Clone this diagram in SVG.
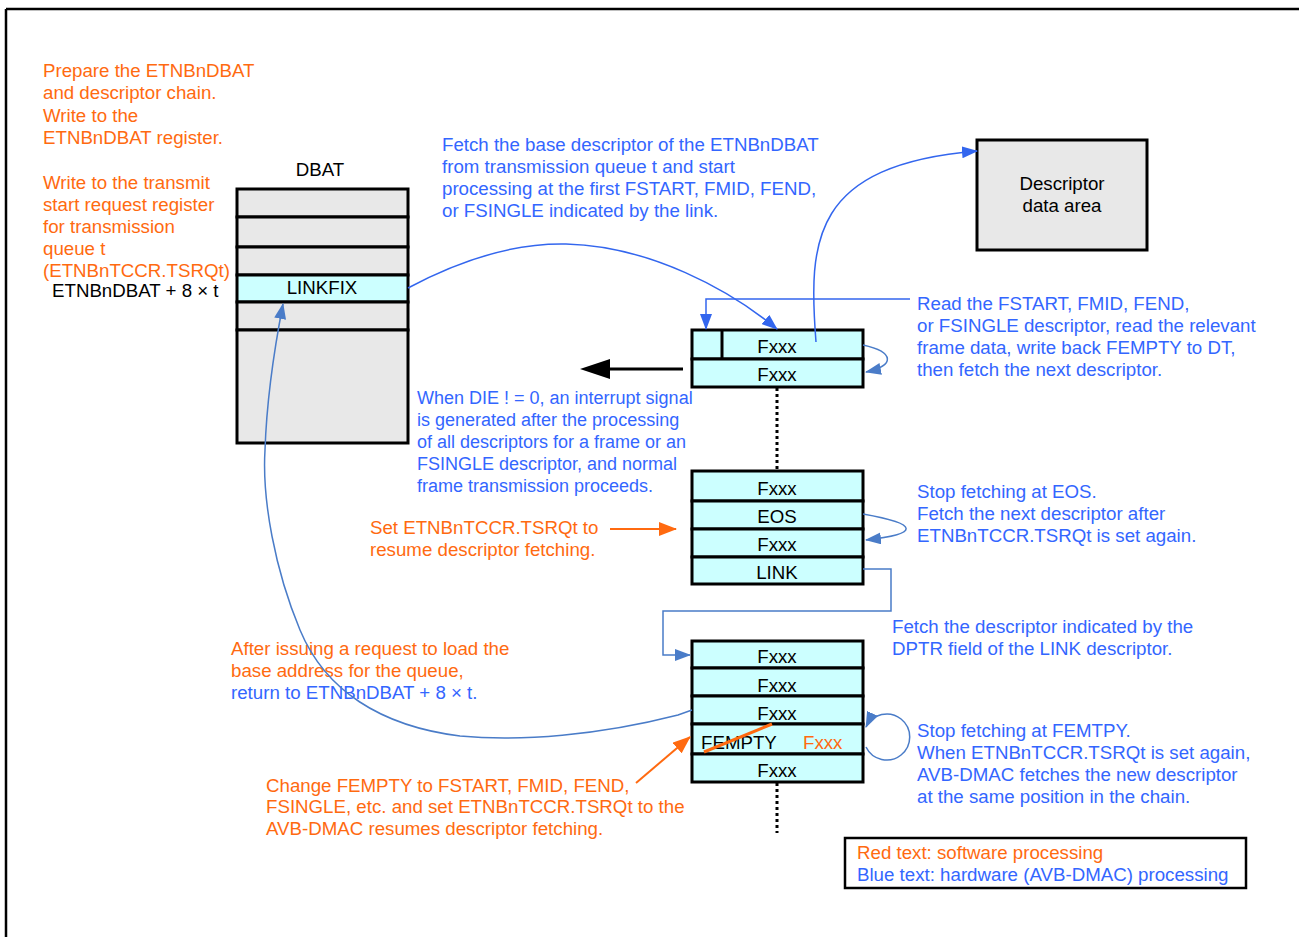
<svg xmlns="http://www.w3.org/2000/svg" width="1299" height="937" viewBox="0 0 1299 937">
<style>
text{font-family:"Liberation Sans",Arial,sans-serif;font-size:18.7px;}
.s{font-size:18px;}
.k{fill:#000;}
.o{fill:#FF6A10;}
.b{fill:#3366FF;}
.c{text-anchor:middle;}
.cell{fill:#CCFFFF;stroke:#000;stroke-width:3;}
.gray{fill:#E8E8E8;stroke:#000;stroke-width:3;}
.bl{fill:none;stroke:#3366EE;stroke-width:1.5;}
.sb{fill:none;stroke:#4A7CC8;stroke-width:1.5;}
.or{fill:none;stroke:#FF6A10;stroke-width:2;}
.dot{stroke:#000;stroke-width:3;stroke-dasharray:3,3;fill:none;}
</style>
<defs>
<marker id="ab" markerWidth="16" markerHeight="12" refX="15" refY="6" orient="auto" markerUnits="userSpaceOnUse"><path d="M0,0 L16,6 L0,12 z" fill="#3366EE"/></marker>
<marker id="as" markerWidth="16" markerHeight="12" refX="15" refY="6" orient="auto" markerUnits="userSpaceOnUse"><path d="M0,0 L16,6 L0,12 z" fill="#4A7CC8"/></marker>
<marker id="ao" markerWidth="18" markerHeight="14" refX="17" refY="7" orient="auto" markerUnits="userSpaceOnUse"><path d="M0,0 L18,7 L0,14 z" fill="#FF6A10"/></marker>
</defs>

<g id="frame">
<line x1="6" y1="9" x2="1299" y2="9" stroke="#000" stroke-width="2.5"/>
<line x1="6" y1="9" x2="6" y2="937" stroke="#000" stroke-width="2.5"/>
</g>

<g id="notes">
<text class="o" x="43" y="77">Prepare the ETNBnDBAT</text>
<text class="o" x="43" y="99">and descriptor chain.</text>
<text class="o" x="43" y="122">Write to the</text>
<text class="o" x="43" y="144">ETNBnDBAT register.</text>
<text class="o" x="43" y="189">Write to the transmit</text>
<text class="o" x="43" y="211">start request register</text>
<text class="o" x="43" y="233">for transmission</text>
<text class="o" x="43" y="255">queue t</text>
<text class="o" x="43" y="277">(ETNBnTCCR.TSRQt)</text>
<text class="k" x="52" y="297">ETNBnDBAT + 8 × t</text>

<text class="b" x="442" y="151">Fetch the base descriptor of the ETNBnDBAT</text>
<text class="b" x="442" y="173">from transmission queue t and start</text>
<text class="b" x="442" y="195">processing at the first FSTART, FMID, FEND,</text>
<text class="b" x="442" y="217">or FSINGLE indicated by the link.</text>

<text class="b" x="917" y="310">Read the FSTART, FMID, FEND,</text>
<text class="b" x="917" y="332">or FSINGLE descriptor, read the relevant</text>
<text class="b" x="917" y="354">frame data, write back FEMPTY to DT,</text>
<text class="b" x="917" y="376">then fetch the next descriptor.</text>

<text class="b s" x="417" y="404">When DIE ! = 0, an interrupt signal</text>
<text class="b s" x="417" y="426">is generated after the processing</text>
<text class="b s" x="417" y="448">of all descriptors for a frame or an</text>
<text class="b s" x="417" y="470">FSINGLE descriptor, and normal</text>
<text class="b s" x="417" y="492">frame transmission proceeds.</text>

<text class="b" x="917" y="498">Stop fetching at EOS.</text>
<text class="b" x="917" y="520">Fetch the next descriptor after</text>
<text class="b" x="917" y="542">ETNBnTCCR.TSRQt is set again.</text>

<text class="o" x="370" y="534">Set ETNBnTCCR.TSRQt to</text>
<text class="o" x="370" y="556">resume descriptor fetching.</text>

<text class="b" x="892" y="633">Fetch the descriptor indicated by the</text>
<text class="b" x="892" y="655">DPTR field of the LINK descriptor.</text>

<text class="o" x="231" y="655">After issuing a request to load the</text>
<text class="o" x="231" y="677">base address for the queue,</text>
<text class="b" x="231" y="699">return to ETNBnDBAT + 8 × t.</text>

<text class="b" x="917" y="737">Stop fetching at FEMTPY.</text>
<text class="b" x="917" y="759">When ETNBnTCCR.TSRQt is set again,</text>
<text class="b" x="917" y="781">AVB-DMAC fetches the new descriptor</text>
<text class="b" x="917" y="803">at the same position in the chain.</text>

<text class="o" x="266" y="792">Change FEMPTY to FSTART, FMID, FEND,</text>
<text class="o" x="266" y="813">FSINGLE, etc. and set ETNBnTCCR.TSRQt to the</text>
<text class="o" x="266" y="835">AVB-DMAC resumes descriptor fetching.</text>
</g>

<g id="dbat">
<text class="k c" x="320" y="176">DBAT</text>
<rect class="gray" x="237" y="189" width="171" height="28"/>
<rect class="gray" x="237" y="217" width="171" height="30"/>
<rect class="gray" x="237" y="247" width="171" height="28"/>
<rect class="cell" x="237" y="275" width="171" height="27"/>
<text class="k c" x="322" y="294">LINKFIX</text>
<rect class="gray" x="237" y="302" width="171" height="28"/>
<rect class="gray" x="237" y="330" width="171" height="113"/>
</g>

<g id="descriptor-data-area">
<rect class="gray" x="977" y="140" width="170" height="110"/>
<text class="k c" x="1062" y="190">Descriptor</text>
<text class="k c" x="1062" y="212">data area</text>
</g>

<g id="chain1">
<rect class="cell" x="692" y="330" width="171" height="29"/>
<line x1="722" y1="330" x2="722" y2="359" stroke="#000" stroke-width="3"/>
<text class="k c" x="777" y="353">Fxxx</text>
<rect class="cell" x="692" y="359" width="171" height="28"/>
<text class="k c" x="777" y="381">Fxxx</text>
</g>

<g id="chain2">
<rect class="cell" x="692" y="471" width="171" height="30"/>
<text class="k c" x="777" y="495">Fxxx</text>
<rect class="cell" x="692" y="501" width="171" height="28"/>
<text class="k c" x="777" y="523">EOS</text>
<rect class="cell" x="692" y="529" width="171" height="28"/>
<text class="k c" x="777" y="551">Fxxx</text>
<rect class="cell" x="692" y="557" width="171" height="27"/>
<text class="k c" x="777" y="579">LINK</text>
</g>

<g id="chain3">
<rect class="cell" x="692" y="641" width="171" height="27"/>
<text class="k c" x="777" y="663">Fxxx</text>
<rect class="cell" x="692" y="668" width="171" height="28"/>
<text class="k c" x="777" y="692">Fxxx</text>
<rect class="cell" x="692" y="696" width="171" height="28"/>
<text class="k c" x="777" y="720">Fxxx</text>
<rect class="cell" x="692" y="724" width="171" height="30"/>
<text class="k" x="701" y="749">FEMPTY</text>
<text class="o" x="803" y="749">Fxxx</text>
<rect class="cell" x="692" y="754" width="171" height="28"/>
<text class="k c" x="777" y="777">Fxxx</text>
<line x1="704" y1="752" x2="772" y2="724" stroke="#FF6A10" stroke-width="3"/>
</g>

<g id="legend">
<rect x="845" y="838" width="401" height="50" fill="#fff" stroke="#000" stroke-width="2.5"/>
<text class="o" x="857" y="859">Red text: software processing</text>
<text class="b" x="857" y="881">Blue text: hardware (AVB-DMAC) processing</text>
</g>

<g id="connectors">
<path class="bl" d="M408,288 C470,255 520,243 566,244 C650,246 730,290 777,329" marker-end="url(#ab)"/>
<path class="bl" d="M816,342 C808,240 812,165 977,151" marker-end="url(#ab)"/>
<path class="bl" d="M910,299 L706,299 L706,329" marker-end="url(#ab)"/>
<path class="sb" d="M863,345 C895,352 895,366 866,372" marker-end="url(#as)"/>
<line x1="608" y1="369" x2="683" y2="369" stroke="#000" stroke-width="3"/>
<polygon points="580,369 610,359 610,379" fill="#000"/>
<line class="dot" x1="777" y1="388" x2="777" y2="470"/>
<line class="dot" x1="777" y1="783" x2="777" y2="833"/>
<path class="sb" d="M863,514 C920,524 920,534 866,540" marker-end="url(#as)"/>
<line class="or" x1="610" y1="529" x2="676" y2="529" marker-end="url(#ao)"/>
<path class="sb" d="M863,569 L891,569 L891,611 L663,611 L663,655 L690,655" marker-end="url(#as)"/>
<path class="sb" d="M692,710 L678,715 C600,735 520,742 460,736 C380,726 325,690 300,630 C275,570 262,500 265,450 C267,390 276,340 283,304" marker-end="url(#as)"/>
<path class="sb" d="M866,747 A23,23 0 1 0 866,727" marker-end="url(#as)"/>
<line class="or" x1="636" y1="783" x2="690" y2="737" marker-end="url(#ao)"/>
</g>
</svg>
